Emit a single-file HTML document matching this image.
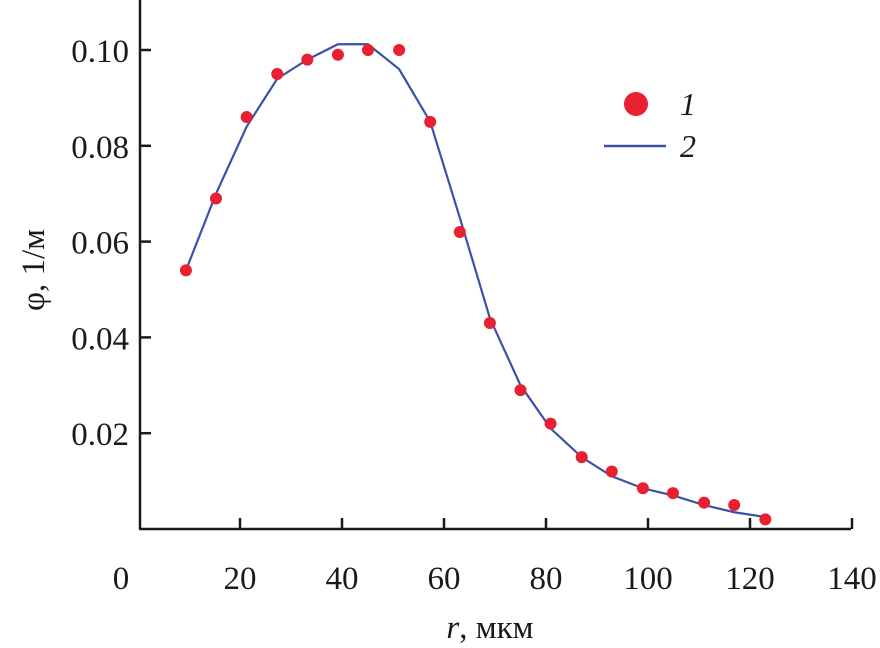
<!DOCTYPE html>
<html><head><meta charset="utf-8"><style>
body{margin:0;background:#fff}
svg{display:block}
text{font-family:"Liberation Serif",serif;fill:#1a1a1a}
</style></head><body>
<svg width="880" height="648">
<g id="axes"></g><g id="marks"></g>
<g>
<circle cx="636" cy="104" r="12" fill="#e8202f"/>
<text x="680" y="115" font-size="32" font-style="italic">1</text>
<line x1="604" y1="146" x2="666" y2="146" stroke="#3a52a8" stroke-width="2.5"/>
<text x="680" y="157" font-size="32" font-style="italic">2</text>
</g>
<text x="490" y="638" font-size="33" text-anchor="middle"><tspan font-style="italic">r</tspan>, мкм</text>
<text transform="translate(44,270) rotate(-90)" font-size="33" text-anchor="middle">φ, 1/м</text>
</svg>
<script>
const rVals=[9.4,15.3,21.3,27.3,33.2,39.2,45.1,51.2,57.3,63.1,69,75,80.9,87,92.9,99,104.9,111,116.9,123];
const phiPoints=[0.054,0.069,0.086,0.095,0.098,0.099,0.100,0.100,0.085,0.062,0.043,0.029,0.022,0.015,0.012,0.0085,0.0075,0.0055,0.005,0.002];
const phiFit=[0.054,0.070,0.084,0.094,0.098,0.1012,0.1012,0.096,0.085,0.065,0.044,0.030,0.021,0.015,0.011,0.0085,0.007,0.005,0.0035,0.0025];
const xTicks=[0,20,40,60,80,100,120,140];
const yTicks=[0.02,0.04,0.06,0.08,0.10];
const X=v=>138+v*5.1, Y=v=>529-v*4790;
const ns="http://www.w3.org/2000/svg";
const ax=document.getElementById('axes'), mk=document.getElementById('marks');
function el(t,a,p){const e=document.createElementNS(ns,t);for(const k in a)e.setAttribute(k,a[k]);p.appendChild(e);return e;}
const yl=el('line',{x1:140,y1:0,x2:140,y2:529,stroke:'#1a1a1a','stroke-width':2.5},ax);


const xl=el('line',{x1:139,y1:529,x2:851,y2:529,stroke:'#1a1a1a','stroke-width':2.5},ax);


xTicks.forEach(v=>{
 if(v>0){const t=el('line',{x1:X(v),y1:529,x2:X(v),y2:518,stroke:'#1a1a1a','stroke-width':2.5},ax);
 
 }
 const tx=el('text',{x:v===0?121:X(v),y:589,'font-size':33,'text-anchor':'middle'},ax);tx.textContent=v;
 
 
});
yTicks.forEach(v=>{
 const t=el('line',{x1:140,y1:Y(v),x2:151,y2:Y(v),stroke:'#1a1a1a','stroke-width':2.5},ax);
 
 
 const tx=el('text',{x:129,y:Y(v)+12,'font-size':33,'text-anchor':'end'},ax);tx.textContent=v.toFixed(2);
 
 
});
const line=el('polyline',{points:rVals.map((r,i)=>X(r)+','+Y(phiFit[i])).join(' '),fill:'none',stroke:'#3a52a8','stroke-width':2.2},mk);


rVals.forEach((r,i)=>{
 const c=el('circle',{cx:X(r),cy:Y(phiPoints[i]),r:6,fill:'#e8202f'},mk);
 
 
});
</script>
</body></html>
